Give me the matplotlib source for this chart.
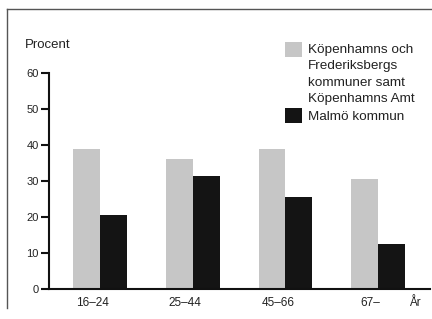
import numpy as np
import matplotlib
matplotlib.use("Agg")
import matplotlib.pyplot as plt
from matplotlib.patches import Rectangle
from matplotlib.lines import Line2D

plt.rcParams['font.family'] = ['Liberation Sans', 'DejaVu Sans']

# data
age_groups = ["16–24", "25–44", "45–66", "67–"]
kopenhamn = [39, 36, 39, 30.5]
malmo = [20.5, 31.5, 25.5, 12.5]
legend_kbh = ["Köpenhamns och", "Frederiksbergs", "kommuner samt", "Köpenhamns Amt"]
legend_malmo = "Malmö kommun"
yticks = [0, 10, 20, 30, 40, 50, 60]

W, H = 432, 319
fig = plt.figure(figsize=(W / 100, H / 100), dpi=100)
fig.patch.set_facecolor("white")

def fx(x):
    return x / W

def fy(y):
    return 1 - y / H

ax = fig.add_axes([fx(49), 30 / H, (430 - 49) / W, (289 - 73) / H])

gray = "#c6c6c6"
black = "#141414"
w = 0.29
x = np.arange(len(age_groups))
ax.bar(x - w / 2, kopenhamn, width=w, color=gray, linewidth=0)
ax.bar(x + w / 2, malmo, width=w, color=black, linewidth=0)

ax.set_xlim(-0.55, 3.56)
ax.set_ylim(0, 60)
ax.set_yticks(yticks)
ax.set_xticks(x - 0.08)
ax.set_xticklabels(age_groups)
ax.tick_params(axis="x", length=0, pad=6, labelsize=8.5, labelcolor="#222")
ax.tick_params(axis="y", length=6, width=1.5, pad=1.5, labelsize=8, color="#111", labelcolor="#222")
for s in ["top", "right"]:
    ax.spines[s].set_visible(False)
for s in ["left", "bottom"]:
    ax.spines[s].set_linewidth(1.5)
    ax.spines[s].set_color("#111")

ax.text(3.40, -0.080, "År", transform=ax.get_xaxis_transform(), ha="center", va="baseline",
        fontsize=8.5, color="#222")

fig.text(fx(25), fy(48.5), "Procent", fontsize=9.5, va="baseline", ha="left", color="#222")

# legend
fig.add_artist(Rectangle((fx(285), fy(57)), fx(17), 15 / H, transform=fig.transFigure, color=gray, lw=0))
fig.add_artist(Rectangle((fx(285), fy(123)), fx(17), 15 / H, transform=fig.transFigure, color=black, lw=0))
for i, line in enumerate(legend_kbh):
    fig.text(fx(308), fy(53 + i * 16.3), line, fontsize=9.7, va="baseline", ha="left", color="#222")
fig.text(fx(308), fy(120), legend_malmo, fontsize=9.7, va="baseline", ha="left", color="#222")

# frame of the scanned figure
fig.add_artist(Line2D([fx(7), fx(7)], [fy(9), fy(308)], transform=fig.transFigure, color="#555", lw=1))
fig.add_artist(Line2D([fx(7), fx(432)], [fy(9), fy(9)], transform=fig.transFigure, color="#555", lw=1))

fig.savefig("out.png", dpi=100)
